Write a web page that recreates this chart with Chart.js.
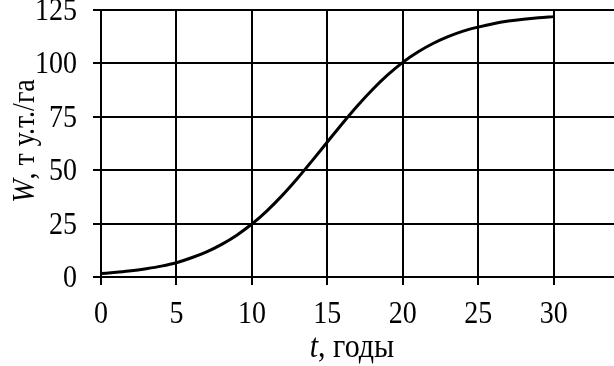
<!DOCTYPE html>
<html>
<head>
<meta charset="utf-8">
<script src="https://cdn.jsdelivr.net/npm/chart.js@4/dist/chart.umd.min.js"></script>
<style>
  html, body { margin: 0; padding: 0; background: #fff; }
  #wrap { width: 614px; height: 366px; position: relative; }
</style>
</head>
<body>
<div id="wrap"><canvas id="growthChart"></canvas></div>
<script>
// years and biomass
const years = [0, 1, 2, 3, 4, 5, 6, 7, 8, 9, 10, 11, 12, 13, 14, 15,
  16, 17, 18, 19, 20, 21, 22, 23, 24, 25, 26, 27, 28, 29, 30];
const biomass = [1.6, 2.2, 2.9, 3.9, 5.1, 6.7, 9.0, 11.8, 15.3, 19.6, 24.8,
  31.0, 38.1, 46.0, 54.5, 63.2, 71.9, 80.2, 87.8, 94.6, 100.5,
  105.3, 109.3, 112.5, 115.1, 117.0, 118.6, 119.8, 120.7, 121.4, 121.9];
const xTicks = [0, 5, 10, 15, 20, 25, 30];
const yTicks = [0, 25, 50, 75, 100, 125];

const FONT = '"Liberation Serif", "Times New Roman", serif';
const STRETCH = 1.15; // the original lettering is a bit taller than wide

function stretchedText(ctx, parts, x, y, align, rotate) {
  ctx.save();
  ctx.translate(x, y);
  if (rotate) ctx.rotate(-Math.PI / 2);
  ctx.scale(1, STRETCH);
  let total = 0;
  parts.forEach(p => { ctx.font = p.font; p.w = ctx.measureText(p.text).width; total += p.w; });
  let cx = align === 'center' ? -total / 2 : align === 'right' ? -total : 0;
  ctx.textAlign = 'left';
  ctx.textBaseline = 'alphabetic';
  parts.forEach(p => { ctx.font = p.font; ctx.fillText(p.text, cx, 0); cx += p.w; });
  ctx.restore();
}

// tick labels and axis titles
const labelsPlugin = {
  id: 'labelsPlugin',
  afterDraw(chart) {
    const ctx = chart.ctx;
    const xs = chart.scales.x;
    const ys = chart.scales.y;
    const tickFont = '28px ' + FONT;
    ctx.save();
    ctx.fillStyle = '#000';
    xTicks.forEach(v => {
      stretchedText(ctx, [{ text: String(v), font: tickFont }], xs.getPixelForValue(v), 323, 'center');
    });
    yTicks.forEach(v => {
      stretchedText(ctx, [{ text: String(v), font: tickFont }], 77, ys.getPixelForValue(v) + 10, 'right');
    });
    stretchedText(ctx, [
      { text: 't', font: 'italic 30px ' + FONT },
      { text: ', годы', font: '30px ' + FONT }
    ], 352, 357, 'center');
    stretchedText(ctx, [
      { text: 'W', font: 'italic 28px ' + FONT },
      { text: ', т у.т./га', font: '28px ' + FONT }
    ], 34, 141, 'center', true);
    ctx.restore();
  }
};

new Chart(document.getElementById('growthChart'), {
  type: 'line',
  data: {
    datasets: [{
      data: years.map((t, i) => ({ x: t, y: biomass[i] })),
      borderColor: '#000',
      borderWidth: 3,
      pointRadius: 0,
      cubicInterpolationMode: 'monotone',
      fill: false
    }]
  },
  options: {
    responsive: true,
    maintainAspectRatio: false,
    animation: false,
    layout: { padding: { top: 10, right: 0, left: 0, bottom: 0 } },
    plugins: { legend: { display: false }, tooltip: { enabled: false } },
    scales: {
      x: {
        type: 'linear',
        min: 0,
        max: 34,
        afterBuildTicks: s => { s.ticks = xTicks.map(v => ({ value: v })); },
        afterFit: s => { s.height = 89; s.paddingLeft = 0; s.paddingRight = 0; },
        grid: { color: '#000', lineWidth: 2, tickLength: 8, drawTicks: true },
        border: { display: true, color: '#000', width: 2 },
        ticks: { display: false }
      },
      y: {
        min: 0,
        max: 125,
        afterBuildTicks: s => { s.ticks = yTicks.map(v => ({ value: v })); },
        afterFit: s => { s.width = 101; s.paddingTop = 0; s.paddingBottom = 0; },
        grid: { color: '#000', lineWidth: 2, tickLength: 8, drawTicks: true },
        border: { display: true, color: '#000', width: 2 },
        ticks: { display: false }
      }
    }
  },
  plugins: [labelsPlugin]
});
</script>
</body>
</html>
